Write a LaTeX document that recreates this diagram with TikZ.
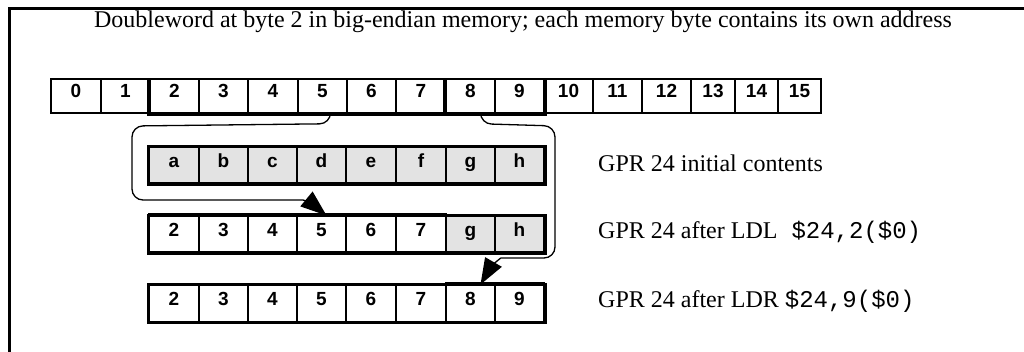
\documentclass[tikz,border=0pt]{standalone}
\usepackage{fontspec}
\setmainfont{Liberation Serif}
\setsansfont{Liberation Sans}
\setmonofont{Liberation Mono}
\usetikzlibrary{arrows.meta}
\begin{document}
\begin{tikzpicture}[x=1pt,y=-1pt,
  cellfont/.style={font=\sffamily\bfseries\fontsize{19}{19}\selectfont, text height=13.6pt, text depth=10pt},
  mcell/.style={draw, line width=1.5pt, minimum height=34pt, inner sep=0pt, anchor=center, cellfont},
  rcell/.style={draw, line width=2pt, minimum height=36pt, inner sep=0pt, anchor=center, cellfont},
  shaded/.style={fill=black!11},
  heavy/.style={line width=4pt},
  frame/.style={line width=3pt},
  link/.style={line width=1.3pt, rounded corners=11pt, -{Triangle[length=26pt,width=19pt]}},
  lbl/.style={anchor=west, inner sep=0pt, font=\fontsize{24}{24}\selectfont},
]
\useasboundingbox (0,0) rectangle (1024,352);
\draw[frame] (9,352) -- (9,9) -- (1024,9);
\node[font=\fontsize{24}{24}\selectfont] (title) at (523,22) {Doubleword at byte 2 in big-endian memory; each memory byte contains its own address};

% memory row
\foreach \i/\l/\r in {0/51/101,1/101/150,2/150/199,3/199/248,4/248/298,5/298/347,6/347/396,7/396/446,8/446/495,9/495/544,10/544/593,11/593/642,12/642/691,13/691/735,14/735/778,15/778/821}
  \node[mcell, minimum width={(\r-\l)*1pt}] (m\i) at ({(\l+\r)/2},96) {\i};
\draw[heavy] (m2.north west) -- (m2.south west) -- (m9.south east) -- (m9.north east);
\draw[heavy] (m8.north west) -- (m8.south west);

% register rows
\foreach \t/\l/\r [count=\k] in {a/149/199,b/199/248,c/248/297,d/297/346,e/346/396,f/396/446,g/446/495,h/495/544}
  \node[rcell, shaded, minimum width={(\r-\l)*1pt}] (a\k) at ({(\l+\r)/2},165.5) {\t};
\foreach \t/\l/\r [count=\k] in {2/149/199,3/199/248,4/248/297,5/297/346,6/346/396,7/396/446}
  \node[rcell, minimum width={(\r-\l)*1pt}] (b\k) at ({(\l+\r)/2},234.5) {\t};
\node[rcell, shaded, minimum width=49pt] (b7) at (470.5,234.5) {g};
\node[rcell, shaded, minimum width=49pt] (b8) at (519.5,234.5) {h};
\foreach \t/\l/\r [count=\k] in {2/149/199,3/199/248,4/248/297,5/297/346,6/346/396,7/396/446,8/446/495,9/495/544}
  \node[rcell, minimum width={(\r-\l)*1pt}] (c\k) at ({(\l+\r)/2},303.5) {\t};
\draw[line width=3pt] (a1.north west) rectangle (a8.south east);
\draw[line width=3pt] (b1.north west) rectangle (b8.south east);
\draw[line width=3pt] (c1.north west) rectangle (c8.south east);
\draw[heavy] (b1.north west) -- (b6.north east);
\draw[heavy] (c7.north west) -- (c8.north east);

% connectors
\draw[link] ([xshift=8pt]m5.south) -- ++(0,10) -- (132,126) -- (132,200) -- (292,200)
  [rounded corners=0pt] .. controls (305,200) and (315,206) .. ([xshift=5pt]b4.north);
\draw[link] ([xshift=10pt]m8.south) -- ++(0,10) -- (555,126) -- (555,258) -- (512,258)
  [rounded corners=0pt] .. controls (500,258) and (490,268) .. ([xshift=10pt]c7.north);

% labels
\node[lbl] (l1) at (598,163) {GPR 24 initial contents};
\node[lbl] (l2) at (598,232) {GPR 24 after LDL\hspace{14pt}{\ttfamily\fontsize{24}{24}\selectfont \$24,2(\$0)}};
\node[lbl] (l3) at (598,301) {GPR 24 after LDR {\ttfamily\fontsize{24}{24}\selectfont \$24,9(\$0)}};
\end{tikzpicture}
\end{document}
